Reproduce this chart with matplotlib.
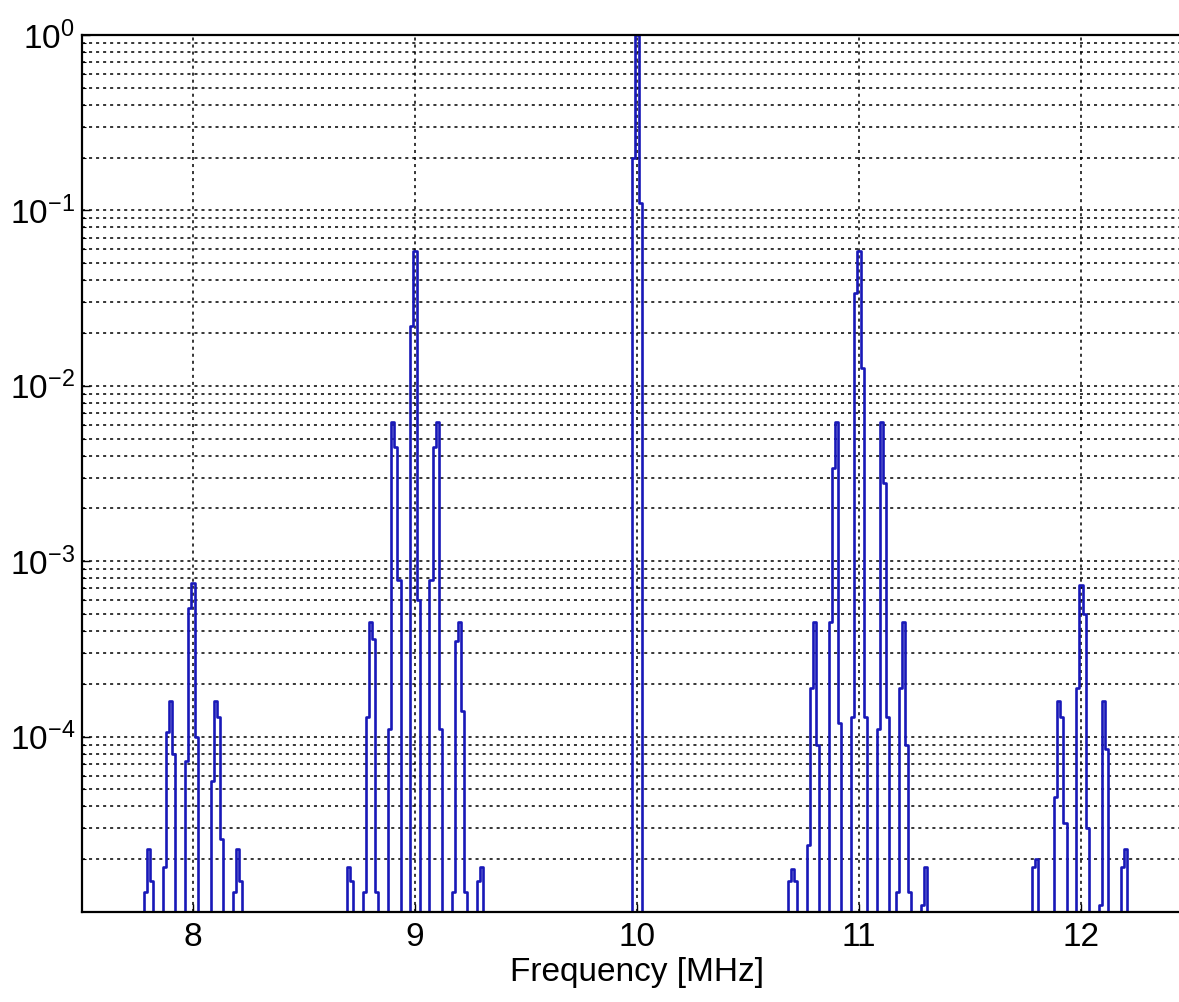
import matplotlib
matplotlib.use('Agg')
import matplotlib.pyplot as plt
from matplotlib.ticker import FixedLocator, NullFormatter

plt.rcParams['font.family'] = ['Liberation Sans', 'DejaVu Sans']
plt.rcParams['mathtext.default'] = 'regular'

# ---- data -------------------------------------------------------------
bin_width = 0.014          # MHz, spacing of spectrum bins
floor_value = 1e-7         # below axis (drawn to bottom)

# peak centre frequencies [MHz]
centers_8 = [7.8, 7.9, 8.0, 8.1, 8.2]
centers_9 = [8.7, 8.8, 8.9, 9.0, 9.1, 9.2, 9.3]
centers_10 = [10.0]
centers_11 = [10.7, 10.8, 10.9, 11.0, 11.1, 11.2, 11.3]
centers_12 = [11.8, 11.9, 12.0, 12.1, 12.2]

# bin amplitudes at offsets -2..+2 bins around each centre
amps_8 = [
    [1e-7, 1.3e-5, 2.3e-5, 1.5e-5, 1e-7],
    [1.8e-5, 1.06e-4, 1.6e-4, 8e-5, 1e-7],
    [7.3e-5, 5.4e-4, 7.5e-4, 1.0e-4, 1e-7],
    [1e-7, 5.6e-5, 1.6e-4, 1.3e-4, 2.6e-5],
    [1e-7, 1.3e-5, 2.3e-5, 1.5e-5, 1e-7],
]
amps_9 = [
    [1e-7, 1e-7, 1.8e-5, 1.5e-5, 1e-7],
    [1.3e-5, 1.3e-4, 4.5e-4, 3.6e-4, 1.3e-5],
    [1e-7, 1.1e-4, 6.2e-3, 4.5e-3, 7.8e-4],
    [1e-7, 0.022, 0.059, 6e-4, 1e-7],
    [7.8e-4, 4.5e-3, 6.2e-3, 1.1e-4, 1e-7],
    [1.3e-5, 3.5e-4, 4.5e-4, 1.4e-4, 1.3e-5],
    [1e-7, 1.5e-5, 1.8e-5, 1e-7, 1e-7],
]
amps_10 = [
    [1e-7, 0.2, 1.0, 0.11, 1e-7],
]
amps_11 = [
    [1e-7, 1.5e-5, 1.75e-5, 1.5e-5, 1e-7],
    [2.4e-5, 1.9e-4, 4.5e-4, 9e-5, 1e-7],
    [4.5e-4, 3.4e-3, 6.2e-3, 1.2e-4, 1e-7],
    [1.3e-4, 0.034, 0.059, 0.0126, 1.3e-4],
    [1e-7, 1.1e-4, 6.2e-3, 2.8e-3, 1.3e-4],
    [1.3e-5, 1.9e-4, 4.5e-4, 9e-5, 1.3e-5],
    [1e-7, 1.1e-5, 1.8e-5, 1e-7, 1e-7],
]
amps_12 = [
    [1e-7, 1.8e-5, 2.0e-5, 1e-7, 1e-7],
    [1e-7, 4.5e-5, 1.6e-4, 1.3e-4, 3.2e-5],
    [1e-7, 1.9e-4, 7.3e-4, 5e-4, 3e-5],
    [1e-7, 1.1e-5, 1.6e-4, 8.5e-5, 1e-7],
    [1e-7, 1.8e-5, 2.3e-5, 1e-7, 1e-7],
]

x_ticks = [8, 9, 10, 11, 12]
y_ticks = [1e-4, 1e-3, 1e-2, 1e-1, 1e0]

# ---- build the sampled spectrum ----------------------------------------
freq = []
amp = []
for cs, ams in [(centers_8, amps_8), (centers_9, amps_9), (centers_10, amps_10),
                (centers_11, amps_11), (centers_12, amps_12)]:
    for c, a in zip(cs, ams):
        freq.append(c - 3 * bin_width)
        amp.append(floor_value)
        for k, v in zip(range(-2, 3), a):
            freq.append(c + k * bin_width)
            amp.append(v)
        freq.append(c + 3 * bin_width)
        amp.append(floor_value)

# ---- figure ------------------------------------------------------------
W, H = 1179, 1002
fig = plt.figure(figsize=(W / 100, H / 100), dpi=100)
ax = fig.add_axes([82 / W, (H - 912) / H, 1110 / W, 877 / H])

ax.plot(freq, amp, drawstyle='steps-mid', color='#1818b8', lw=1.9)

ax.set_yscale('log')
ax.set_xlim(7.5, 12.5)
ax.set_ylim(1e-5, 1)

ax.xaxis.set_major_locator(FixedLocator(x_ticks))
ax.yaxis.set_major_locator(FixedLocator(y_ticks))
minor = [m * 10.0 ** e for e in range(-5, 0) for m in range(2, 10)]
ax.yaxis.set_minor_locator(FixedLocator(minor))
ax.yaxis.set_minor_formatter(NullFormatter())

grid_style = dict(color='black', linestyle=(0, (2.0, 2.6)), linewidth=1.1)
ax.grid(True, which='major', axis='both', **grid_style)
ax.grid(True, which='minor', axis='y', **grid_style)
ax.set_axisbelow(True)

ax.tick_params(axis='both', which='major', direction='in', length=6,
               width=1.0, labelsize=24, pad=7)
ax.tick_params(axis='y', which='major', pad=5)
ax.tick_params(axis='y', which='minor', direction='in', length=3, width=0.8)
ax.tick_params(axis='x', which='both', top=False)
ax.tick_params(axis='y', which='both', right=False)

for s in ax.spines.values():
    s.set_linewidth(1.6)

ax.set_xlabel('Frequency [MHz]', fontsize=24, labelpad=3)

fig.savefig('out.png', dpi=100)
